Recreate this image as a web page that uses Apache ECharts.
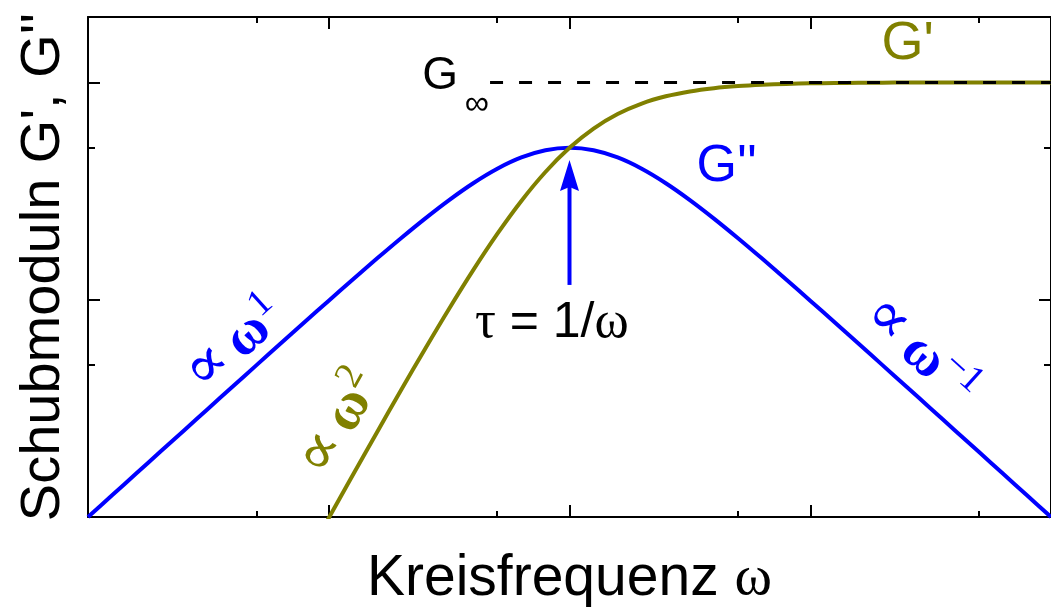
<!DOCTYPE html>
<html>
<head>
<meta charset="utf-8">
<script src="https://cdn.jsdelivr.net/npm/echarts@6/dist/echarts.min.js"></script>
<style>
  html, body { margin: 0; padding: 0; background: #fff; }
  #chart { width: 1051px; height: 613px; }
</style>
</head>
<body>
<div id="chart"></div>
<script>
// Maxwell model on log-log axes: x = log10(ω·τ), y = log10(G / G∞)
const logOmegaTau = [-2.0, -1.9, -1.8, -1.7, -1.6, -1.5, -1.4, -1.3, -1.2, -1.1, -1.0,
                     -0.9, -0.8, -0.7, -0.6, -0.5, -0.4, -0.3, -0.2, -0.1, 0.0,
                      0.1, 0.2, 0.3, 0.4, 0.5, 0.6, 0.7, 0.8, 0.9, 1.0,
                      1.1, 1.2, 1.3, 1.4, 1.5, 1.6, 1.7, 1.8, 1.9, 2.0];
// loss modulus G''
const logLossModulus = [-2.0000, -1.9001, -1.8001, -1.7002, -1.6003, -1.5004, -1.4007, -1.3011, -1.2017, -1.1027, -1.0043,
                        -0.9068, -0.8108, -0.7170, -0.6266, -0.5414, -0.4639, -0.3973, -0.3455, -0.3124, -0.3010,
                        -0.3124, -0.3455, -0.3973, -0.4639, -0.5414, -0.6266, -0.7170, -0.8108, -0.9068, -1.0043,
                        -1.1027, -1.2017, -1.3011, -1.4007, -1.5004, -1.6003, -1.7002, -1.8001, -1.9001, -2.0000];
// storage modulus G'
const logOmegaTauStorage = [-1.2, -1.1, -1.0, -0.9, -0.8, -0.7, -0.6, -0.5, -0.4, -0.3, -0.2, -0.1, 0.0,
                             0.1, 0.2, 0.3, 0.4, 0.5, 0.6, 0.7, 0.8, 0.9, 1.0,
                             1.1, 1.2, 1.3, 1.4, 1.5, 1.6, 1.7, 1.8, 1.9, 2.0];
const logStorageModulus = [-2.4017, -2.2027, -2.0043, -1.8068, -1.6108, -1.4170, -1.2266, -1.0414, -0.8639, -0.6973, -0.5455, -0.4124, -0.3010,
                           -0.2124, -0.1455, -0.0973, -0.0639, -0.0414, -0.0266, -0.0170, -0.0108, -0.0068, -0.0043,
                           -0.0027, -0.0017, -0.0011, -0.0007, -0.0004, -0.0003, -0.0002, -0.0001, -0.0001, 0.0000];
// plateau modulus G∞ and where its dashed guide starts
const logGInfinity = 0;
const logPlateauGuideStart = -0.33;

// axis ranges and tick positions (decades and 5×10^n)
const xRange = [-2, 2];
const yRange = [-2, 0.30103];
const majorTicksX = [-2, -1, 0, 1, 2];
const minorTicksX = [-1.30103, -0.30103, 0.69897, 1.69897];
const majorTicksY = [-2, -1, 0];
const minorTicksY = [-1.30103, -0.30103];

const BLUE = '#0000ff';
const OLIVE = '#808000';
const SANS = '"Liberation Sans", Arial, sans-serif';
const SERIF = '"Liberation Serif", "DejaVu Serif", "Times New Roman", serif';
const MATH = '"DejaVu Serif", "Liberation Serif", serif';

const chart = echarts.init(document.getElementById('chart'), null, { renderer: 'canvas' });

function makeAxis(position, range, ticks, tickLen, showLine, extra) {
  return Object.assign({
    type: 'value',
    position: position,
    min: range[0],
    max: range[1],
    axisLine: { show: showLine, onZero: false, lineStyle: { color: '#000', width: 2 } },
    axisTick: { show: true, inside: true, length: tickLen, customValues: ticks,
                lineStyle: { color: '#000', width: 2 } },
    axisLabel: { show: false },
    splitLine: { show: false },
    minorTick: { show: false }
  }, extra || {});
}

const pairs = (xs, ys) => xs.map((x, i) => [x, ys[i]]);

chart.setOption({
  animation: false,
  backgroundColor: '#fff',
  // the plot box runs a few pixels past the right edge of the canvas
  grid: { left: 88, width: 968, top: 17, bottom: 87, containLabel: false },
  xAxis: [
    makeAxis('bottom', xRange, majorTicksX, 12, true, {
      name: 'Kreisfrequenz {w|ω}',
      nameLocation: 'middle',
      nameGap: 34,
      nameTextStyle: { fontFamily: SANS, fontSize: 57, color: '#000',
        rich: { w: { fontFamily: SERIF, fontSize: 57, color: '#000' } } }
    }),
    makeAxis('bottom', xRange, minorTicksX, 6, false),
    makeAxis('top', xRange, majorTicksX, 12, true),
    makeAxis('top', xRange, minorTicksX, 6, false)
  ],
  yAxis: [
    makeAxis('left', yRange, majorTicksY, 12, true, {
      name: "Schubmoduln G', G''",
      nameLocation: 'middle',
      nameGap: 16,
      nameTextStyle: { fontFamily: SANS, fontSize: 56, color: '#000' }
    }),
    makeAxis('left', yRange, minorTicksY, 7, false),
    makeAxis('right', yRange, majorTicksY, 12, true),
    makeAxis('right', yRange, minorTicksY, 7, false)
  ],
  series: [
    {
      name: "G''",
      type: 'line',
      data: pairs(logOmegaTau, logLossModulus),
      smooth: 0.3,
      showSymbol: false,
      clip: true,
      lineStyle: { color: BLUE, width: 4 },
      z: 3
    },
    {
      name: "G'",
      type: 'line',
      data: pairs(logOmegaTauStorage, logStorageModulus),
      smooth: 0.3,
      showSymbol: false,
      clip: true,
      lineStyle: { color: OLIVE, width: 4 },
      z: 4
    },
    {
      name: 'G∞',
      type: 'line',
      data: [[logPlateauGuideStart, logGInfinity], [xRange[1], logGInfinity]],
      showSymbol: false,
      clip: true,
      lineStyle: { color: '#000', width: 3, type: [13, 16] },
      z: 5
    }
  ]
});

// annotations placed in data coordinates
const px = (x, y) => chart.convertToPixel({ gridIndex: 0 }, [x, y]);
const deg = Math.PI / 180;

function label(pos, text, font, size, color, extra) {
  return Object.assign({
    type: 'text',
    x: pos[0], y: pos[1],
    z: 10,
    style: { text: text, font: size + 'px ' + font, fill: color, align: 'center', verticalAlign: 'middle' }
  }, extra || {});
}

function slopeLabel(pos, angle, color, exponent) {
  return {
    type: 'text',
    x: pos[0], y: pos[1],
    rotation: angle * deg,
    z: 10,
    style: {
      text: '{p|∝}{s| }{w|ω}{e|' + exponent + '}',
      align: 'center',
      verticalAlign: 'middle',
      fill: color,
      rich: {
        p: { fontFamily: MATH, fontSize: 62, fill: color, lineHeight: 62, verticalAlign: 'bottom' },
        s: { fontFamily: SERIF, fontSize: 40, fill: color, lineHeight: 62, verticalAlign: 'bottom' },
        w: { fontFamily: SERIF, fontSize: 56, fontWeight: 'bold', fill: color, lineHeight: 62, verticalAlign: 'bottom' },
        e: { fontFamily: SERIF, fontSize: 38, fill: color, lineHeight: 38, verticalAlign: 'top' }
      }
    }
  };
}

const peak = logOmegaTau[logLossModulus.indexOf(Math.max(...logLossModulus))];
const arrowTip = px(peak, -0.357);
const arrowTail = px(peak, -0.932);
const headLen = 31, headHalf = 9.5;

chart.setOption({
  graphic: [
    label(px(1.405, 0.176), "G'", SANS, 54, OLIVE),
    label(px(0.653, -0.389), "G''", SANS, 52, BLUE),
    label(px(-0.537, 0.027), 'G', SANS, 46, '#000'),
    label(px(-0.385, -0.10), '∞', SANS, 34, '#000'),
    {
      type: 'text',
      x: px(-0.393, 0)[0], y: px(0, -1.108)[1],
      z: 10,
      style: {
        text: '{s|τ}{n| = 1/}{s|ω}',
        align: 'left', verticalAlign: 'middle', fill: '#000',
        rich: {
          s: { fontFamily: SERIF, fontSize: 52, fill: '#000' },
          n: { fontFamily: SANS, fontSize: 50, fill: '#000' }
        }
      }
    },
    slopeLabel(px(-1.393, -1.204), 42, BLUE, '1'),
    slopeLabel(px(-0.959, -1.566), 61, OLIVE, '2'),
    slopeLabel(px(1.459, -1.235), -42, BLUE, '−1'),
    {
      type: 'line',
      z: 9,
      shape: { x1: arrowTail[0], y1: arrowTail[1], x2: arrowTip[0], y2: arrowTip[1] + headLen - 4 },
      style: { stroke: BLUE, lineWidth: 4 }
    },
    {
      type: 'polygon',
      z: 9,
      shape: { points: [
        [arrowTip[0], arrowTip[1]],
        [arrowTip[0] + headHalf, arrowTip[1] + headLen],
        [arrowTip[0], arrowTip[1] + headLen - 4],
        [arrowTip[0] - headHalf, arrowTip[1] + headLen]
      ] },
      style: { fill: BLUE }
    }
  ]
});
</script>
</body>
</html>
